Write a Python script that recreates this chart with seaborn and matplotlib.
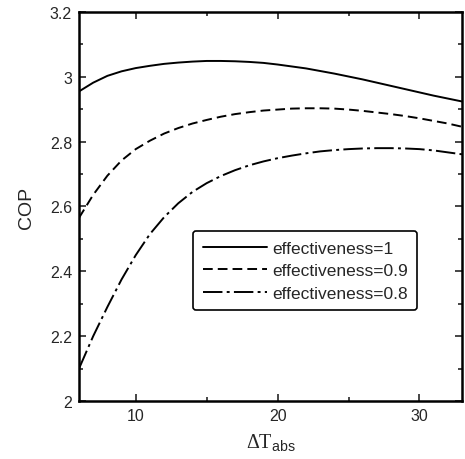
import numpy as np
import pandas as pd
import matplotlib
matplotlib.use("Agg")
import matplotlib.pyplot as plt
import seaborn as sns

dt = [6, 7, 8, 9, 10, 11, 12, 13, 14, 15, 16, 17, 18, 19, 20,
      21, 22, 23, 24, 25, 26, 27, 28, 29, 30, 31, 32, 33]
cop_1 = [2.955, 2.982, 3.003, 3.017, 3.027, 3.034, 3.040, 3.044, 3.047, 3.049,
         3.049, 3.048, 3.046, 3.043, 3.038, 3.032, 3.026, 3.018, 3.010, 3.001,
         2.992, 2.982, 2.972, 2.962, 2.952, 2.942, 2.933, 2.924]
cop_09 = [2.565, 2.636, 2.695, 2.742, 2.777, 2.803, 2.825, 2.842, 2.856, 2.867,
          2.877, 2.885, 2.891, 2.896, 2.899, 2.902, 2.903, 2.903, 2.902, 2.899,
          2.895, 2.890, 2.885, 2.879, 2.872, 2.864, 2.856, 2.846]
cop_08 = [2.100, 2.200, 2.290, 2.375, 2.450, 2.515, 2.567, 2.610, 2.645, 2.672,
          2.694, 2.712, 2.727, 2.739, 2.749, 2.757, 2.764, 2.770, 2.774, 2.777,
          2.779, 2.780, 2.780, 2.779, 2.777, 2.773, 2.767, 2.761]

labels = ["effectiveness=1", "effectiveness=0.9", "effectiveness=0.8"]

df = pd.concat([
    pd.DataFrame({"dT": dt, "COP": cop_1, "case": labels[0]}),
    pd.DataFrame({"dT": dt, "COP": cop_09, "case": labels[1]}),
    pd.DataFrame({"dT": dt, "COP": cop_08, "case": labels[2]}),
])

sns.set_style("ticks")
plt.rcParams["font.family"] = ["Liberation Sans", "DejaVu Sans"]
plt.rcParams["mathtext.fontset"] = "custom"
plt.rcParams["mathtext.rm"] = "Liberation Serif"
plt.rcParams["mathtext.sf"] = "Liberation Sans"
plt.rcParams["mathtext.it"] = "Liberation Serif:italic"

fig = plt.figure(figsize=(4.65, 4.6), dpi=100)
ax = fig.add_axes([79 / 465, 1 - 402 / 460, (462 - 79) / 465, (402 - 13) / 460])

sns.lineplot(data=df, x="dT", y="COP", style="case", style_order=labels,
             dashes={labels[0]: "", labels[1]: (5, 2.6), labels[2]: (10, 2.2, 1.5, 2.2)},
             color="black", linewidth=1.4, ax=ax, sort=True, estimator=None)

ax.set_xlim(6, 33)
ax.set_ylim(2, 3.2)
ax.set_xticks([10, 20, 30])
ax.set_xticks([15, 25], minor=True)
ax.set_yticks([2, 2.2, 2.4, 2.6, 2.8, 3, 3.2])
ax.set_yticklabels(["2", "2.2", "2.4", "2.6", "2.8", "3", "3.2"])
ax.set_yticks(np.arange(2.1, 3.2, 0.2), minor=True)
ax.tick_params(which="both", direction="in", top=True, right=True, labelsize=11.5,
               width=1.2, pad=5)
ax.tick_params(which="major", length=5)
ax.tick_params(which="minor", length=3)
for s in ax.spines.values():
    s.set_linewidth(1.8)
    s.set_color("black")

ax.set_xlabel(r"$\mathrm{\Delta T}_{\mathsf{abs}}$", fontsize=14.5, labelpad=6)
ax.set_ylabel("COP", fontsize=14, labelpad=11)

leg = ax.legend(loc="upper left", bbox_to_anchor=(0.2977, 0.437), borderaxespad=0,
                frameon=True, fontsize=12.5, handlelength=3.7, handletextpad=0.3,
                borderpad=0.55, labelspacing=0.42, fancybox=True,
                edgecolor="black", framealpha=1)
leg.get_frame().set_linewidth(1.2)
for h in leg.get_lines():
    h.set_linewidth(1.4)

fig.savefig("out.png", dpi=100)
